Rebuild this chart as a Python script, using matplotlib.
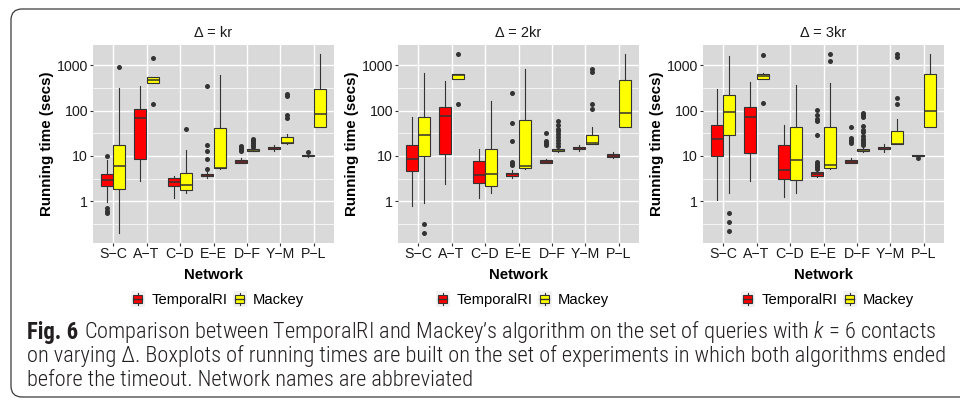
import matplotlib
matplotlib.use("Agg")
import matplotlib.pyplot as plt
from matplotlib import font_manager
from matplotlib.patches import Rectangle, FancyBboxPatch, Patch
from matplotlib.lines import Line2D
from matplotlib.legend_handler import HandlerBase
from matplotlib.transforms import IdentityTransform
import matplotlib.ticker as mticker

plt.rcParams['font.family'] = ['Liberation Sans', 'DejaVu Sans']

# ---------------- data ----------------
networks = ["S−C", "A−T", "C−D", "E−E", "D−F", "Y−M", "P−L"]
panel_titles = ["Δ = kr", "Δ = 2kr", "Δ = 3kr"]
algorithms = ["TemporalRI", "Mackey"]
algo_colors = ["#FF0000", "#FFFF00"]

# Δ = kr
kr_tri_lo = [0.97, 2.76, 1.2, 3.3, 6.8, 12.5, 9.4]
kr_tri_q1 = [2.14, 8.4, 2.14, 3.6, 7.0, 14.0, 9.7]
kr_tri_med = [2.86, 69, 2.67, 3.8, 7.5, 14.7, 10.0]
kr_tri_q3 = [3.94, 109, 3.27, 4.07, 8.0, 15.4, 10.4]
kr_tri_hi = [8.0, 344, 3.56, 4.6, 9.0, 17.5, 11.0]
kr_tri_out = [[9.85, 0.69, 0.61, 0.55], [], [], [350, 17.8, 13, 8.7, 5.1],
              [12.5, 13.5, 14.5, 15.5, 16.3], [], [12.2]]
kr_mac_lo = [0.2, 400, 1.48, 5.1, 12.5, 18.0, 43.6]
kr_mac_q1 = [1.87, 407, 1.72, 5.35, 12.9, 18.8, 43.6]
kr_mac_med = [6.0, 474, 2.25, 5.5, 13.5, 19.4, 83]
kr_mac_q3 = [17.8, 552, 4.2, 42, 14.2, 26.2, 300]
kr_mac_hi = [316, 560, 13.3, 600, 14.8, 31, 1750]
kr_mac_out = [[915], [1449, 138], [40], [], [16, 17.5, 19, 21, 23, 24],
              [229, 207, 79, 70], []]

# Δ = 2kr
kr2_tri_lo = [0.79, 2.4, 1.18, 3.3, 6.8, 12.5, 9.0]
kr2_tri_q1 = [4.7, 10.9, 2.5, 3.6, 7.0, 14.0, 9.5]
kr2_tri_med = [8.4, 75, 3.7, 3.9, 7.5, 14.7, 10.0]
kr2_tri_q3 = [17, 118, 7.6, 4.15, 8.0, 15.4, 10.9]
kr2_tri_hi = [72, 451, 14, 4.8, 8.6, 17.5, 12.2]
kr2_tri_out = [[], [], [], [245, 52, 21.4, 7.4, 6.8, 6.2],
               [17, 18, 19.5, 21, 32], [], []]
kr2_mac_lo = [0.89, 500, 1.48, 5.2, 12.3, 18.0, 43]
kr2_mac_q1 = [9.8, 508, 2.2, 5.4, 12.7, 18.4, 43]
kr2_mac_med = [29.6, 600, 4.0, 6.1, 13.5, 18.9, 90]
kr2_mac_q3 = [74, 645, 14, 63, 14.2, 29.6, 480]
kr2_mac_hi = [677, 660, 161, 845, 14.8, 43.6, 1750]
kr2_mac_out = [[0.305, 0.197], [1750, 143], [], [],
               [16.5, 19, 22, 26, 30, 35, 40, 48, 58], [845, 710, 138, 106], []]

# Δ = 3kr
kr3_tri_lo = [1.04, 2.74, 1.22, 3.4, 6.8, 12.3, 9.5]
kr3_tri_q1 = [10, 11.8, 3.03, 3.65, 7.0, 14.3, 9.7]
kr3_tri_med = [24, 72, 4.87, 4.04, 7.5, 15, 10.0]
kr3_tri_q3 = [47, 123, 17.2, 4.3, 8.1, 15.8, 10.4]
kr3_tri_hi = [304, 433, 49, 4.9, 8.8, 18.6, 10.6]
kr3_tri_out = [[], [], [], [105, 80, 65, 58, 29, 7.2, 6.5, 6.0, 5.6, 5.2],
               [19, 21, 23, 25, 44], [], [8.9]]
kr3_mac_lo = [1.5, 500, 1.5, 5.2, 12.3, 18.0, 42.6]
kr3_mac_q1 = [29.3, 511, 2.94, 5.4, 12.7, 18.3, 42.6]
kr3_mac_med = [95, 585, 8.2, 6.4, 13.3, 18.7, 100]
kr3_mac_q3 = [225, 658, 44, 43, 14.0, 34.8, 658]
kr3_mac_hi = [1574, 670, 372, 411, 14.8, 65, 1750]
kr3_mac_out = [[0.54, 0.35, 0.22], [1714, 145], [], [1804, 1260],
               [17, 19, 21, 24, 28, 34, 38, 45, 72, 80, 87],
               [1804, 1520, 190, 140], []]

y_ticks = [1, 10, 100, 1000]
y_tick_labels = ["1", "10", "100", "1000"]
y_minor = [10 ** -0.5, 10 ** 0.5, 10 ** 1.5, 10 ** 2.5]

caption_bold = "Fig. 6"
caption_line1 = "Comparison between TemporalRI and Mackey’s algorithm on the set of queries with $k$ = 6 contacts"
caption_line2 = "on varying Δ. Boxplots of running times are built on the set of experiments in which both algorithms ended"
caption_line3 = "before the timeout. Network names are abbreviated"

panels = [
    [(kr_tri_lo, kr_tri_q1, kr_tri_med, kr_tri_q3, kr_tri_hi, kr_tri_out),
     (kr_mac_lo, kr_mac_q1, kr_mac_med, kr_mac_q3, kr_mac_hi, kr_mac_out)],
    [(kr2_tri_lo, kr2_tri_q1, kr2_tri_med, kr2_tri_q3, kr2_tri_hi, kr2_tri_out),
     (kr2_mac_lo, kr2_mac_q1, kr2_mac_med, kr2_mac_q3, kr2_mac_hi, kr2_mac_out)],
    [(kr3_tri_lo, kr3_tri_q1, kr3_tri_med, kr3_tri_q3, kr3_tri_hi, kr3_tri_out),
     (kr3_mac_lo, kr3_mac_q1, kr3_mac_med, kr3_mac_q3, kr3_mac_hi, kr3_mac_out)],
]

# ---------------- figure ----------------
W, H = 960, 400
fig = plt.figure(figsize=(W / 100, H / 100), dpi=100)
fig.patch.set_facecolor("white")

EDGE = "#333333"
PANEL_BG = "#D9D9D9"
FS = 10.2


class BoxKeyHandler(HandlerBase):
    def create_artists(self, legend, orig_handle, xdescent, ydescent,
                       width, height, fontsize, trans):
        x0, y0 = -xdescent, -ydescent
        bg = Rectangle((x0, y0), width, height, facecolor="#F2F2F2",
                       edgecolor="none", transform=trans)
        cx = x0 + width / 2
        vline = Line2D([cx, cx], [y0 + height * 0.1, y0 + height * 0.9],
                       color=EDGE, lw=0.8, transform=trans)
        bw = width * 0.62
        bh = height * 0.55
        box = Rectangle((cx - bw / 2, y0 + (height - bh) / 2), bw, bh,
                        facecolor=orig_handle.get_facecolor(), edgecolor=EDGE,
                        lw=0.8, transform=trans)
        med = Line2D([cx - bw / 2, cx + bw / 2], [y0 + height / 2] * 2,
                     color=EDGE, lw=1.0, transform=trans)
        return [bg, vline, box, med]


lefts_px = [93, 398, 703]
ax_w_px = 241
top_px, bot_px = 45, 243
dodge = 0.19
bw = 0.36

for p, (left_px, title, series) in enumerate(zip(lefts_px, panel_titles, panels)):
    ax = fig.add_axes([left_px / W, 1 - bot_px / H, ax_w_px / W, (bot_px - top_px) / H])
    ax.set_facecolor(PANEL_BG)
    ax.set_yscale("log")
    ax.set_xlim(-0.6, len(networks) - 0.4)
    ax.set_ylim(10 ** -0.925, 10 ** 3.45)
    for s in ax.spines.values():
        s.set_visible(False)
    ax.set_yticks(y_ticks)
    ax.set_yticklabels(y_tick_labels)
    ax.yaxis.set_minor_locator(mticker.FixedLocator(y_minor))
    ax.yaxis.set_minor_formatter(mticker.NullFormatter())
    ax.set_xticks(range(len(networks)))
    ax.set_xticklabels(networks)
    ax.grid(True, which="major", color="white", lw=1.0)
    ax.grid(True, which="minor", axis="y", color="white", lw=0.5)
    ax.set_axisbelow(True)
    ax.tick_params(which="major", length=2.4, width=0.8, color=EDGE,
                   labelsize=FS, labelcolor="#1A1A1A", pad=1.2)
    ax.tick_params(axis="x", which="major", pad=0.4)
    ax.tick_params(which="minor", length=0)

    for a, (stats_src, color) in enumerate(zip(series, algo_colors)):
        lo, q1, med, q3, hi, out = stats_src
        stats = []
        for i in range(len(networks)):
            stats.append(dict(whislo=lo[i], q1=q1[i], med=med[i], q3=q3[i],
                              whishi=hi[i], fliers=out[i]))
        offs = -dodge if a == 0 else dodge
        ax.bxp(stats, positions=[i + offs for i in range(len(networks))],
               widths=bw, patch_artist=True, showcaps=False, manage_ticks=False,
               boxprops=dict(facecolor=color, edgecolor=EDGE, lw=0.8),
               medianprops=dict(color=EDGE, lw=1.1),
               whiskerprops=dict(color=EDGE, lw=0.8),
               flierprops=dict(marker="o", markerfacecolor=EDGE,
                               markeredgecolor="none", markersize=3.6))

    ax.text(0.5, 1 + (top_px - 33) / (bot_px - top_px), title, transform=ax.transAxes,
            ha="center", va="center", fontsize=10.5, color="#1A1A1A")
    ax.set_ylabel("Running time (secs)", fontsize=10.9, fontweight="bold")
    ax.yaxis.set_label_coords(-0.19, 0.5)
    ax.yaxis.label.set_va("center")
    ax.set_xlabel("Network", fontsize=10.8, fontweight="bold")
    ax.xaxis.label.set_va("center")
    ax.xaxis.set_label_coords(0.5, -(275 - bot_px) / (bot_px - top_px))

    handles = [Patch(facecolor=c) for c in algo_colors]
    cx = (left_px + ax_w_px / 2 + 4) / W
    ax.legend(handles, algorithms, loc="center", bbox_to_anchor=(cx, 1 - 299 / H),
              bbox_transform=fig.transFigure, ncol=2, frameon=False,
              handlelength=0.95, handleheight=1.25, handletextpad=0.45,
              columnspacing=0.35, fontsize=10.6,
              handler_map={Patch: BoxKeyHandler()})

# ---------------- border ----------------
border = FancyBboxPatch((11, 3), 1000, 388,
                        boxstyle="round,pad=0,rounding_size=11",
                        transform=IdentityTransform(), facecolor="none",
                        edgecolor="#3A3A3A", lw=0.9)
fig.add_artist(border)

# ---------------- caption ----------------
avail = {f.name for f in font_manager.fontManager.ttflist}
cap_family = "Liberation Sans"
for cand in ["Liberation Sans Narrow", "Roboto Condensed", "Open Sans Condensed",
             "Noto Sans Condensed", "DejaVu Sans Condensed"]:
    if cand in avail:
        cap_family = cand
        break
CAPC = "#231F20"
CAPW = "light"
plt.rcParams["mathtext.fontset"] = "custom"
plt.rcParams["mathtext.it"] = cap_family + ":italic:light"
plt.rcParams["mathtext.rm"] = cap_family + ":light"

fig.canvas.draw()
renderer = fig.canvas.get_renderer()

probe = fig.text(0, 0, caption_line2, fontsize=10, family=cap_family, fontweight=CAPW)
w10 = probe.get_window_extent(renderer).width
probe.remove()
cap_fs = 10 * (945 - 27) / w10

ys = [332, 356, 380]
tb = fig.text(27 / W, 1 - ys[0] / H, caption_bold, fontsize=cap_fs * 1.02,
              family=cap_family, fontweight="bold", color=CAPC, va="center", ha="left")
bb = tb.get_window_extent(renderer)
fig.text((bb.x1 + 6) / W, 1 - ys[0] / H, caption_line1, fontsize=cap_fs,
         family=cap_family, fontweight=CAPW, color=CAPC, va="center", ha="left")
fig.text(27 / W, 1 - ys[1] / H, caption_line2, fontsize=cap_fs,
         family=cap_family, fontweight=CAPW, color=CAPC, va="center", ha="left")
fig.text(27 / W, 1 - ys[2] / H, caption_line3, fontsize=cap_fs,
         family=cap_family, fontweight=CAPW, color=CAPC, va="center", ha="left")

fig.savefig("out.png", dpi=100)
